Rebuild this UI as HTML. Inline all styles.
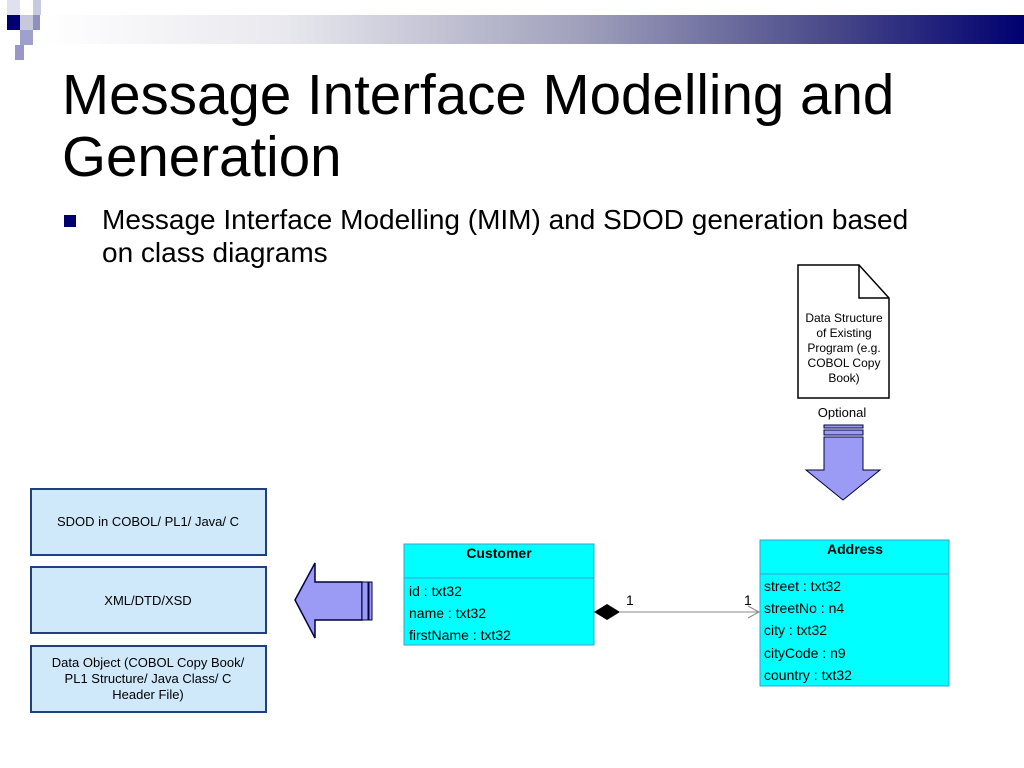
<!DOCTYPE html>
<html><head><style>
body{margin:0;width:1024px;height:768px;background:#fff;position:relative;overflow:hidden;font-family:"Liberation Sans",sans-serif}
.t{position:absolute;color:#000;white-space:nowrap}
</style></head><body>
<div style="position:absolute;left:40px;top:15px;width:984px;height:29px;background:linear-gradient(to right,#fff 0%,#e8e8ee 25%,#a0a0bc 55%,#4a4a8a 80%,#000070 100%)"></div>
<div style="position:absolute;left:7px;top:15px;width:13px;height:15px;background:#00006e"></div>
<div style="position:absolute;left:33px;top:0;width:8px;height:15px;background:#c8c8e0"></div>
<div style="position:absolute;left:20px;top:15px;width:13px;height:15px;background:#c8c8dc"></div>
<div style="position:absolute;left:33px;top:15px;width:7px;height:15px;background:#9090c0"></div>
<div style="position:absolute;left:20px;top:30px;width:13px;height:15px;background:#a0a0cc"></div>
<div style="position:absolute;left:15px;top:45px;width:9px;height:15px;background:#9898c8"></div>
<div style="position:absolute;left:7px;top:0;width:13px;height:15px;background:#e0e0ee"></div>
<div class="t" style="left:62px;top:64px;font-size:56.5px;line-height:62px">Message Interface Modelling and<br>Generation</div>
<div style="position:absolute;left:64px;top:215px;width:12px;height:12px;background:#00006e"></div>
<div class="t" style="left:102px;top:203px;font-size:28px;line-height:33px">Message Interface Modelling (MIM) and SDOD generation based<br>on class diagrams</div>
<svg width="1024" height="768" style="position:absolute;left:0;top:0">
<g fill="#cfe9fb" stroke="#1f3f7f" stroke-width="2">
<rect x="31" y="489" width="235" height="66"/><rect x="31" y="567" width="235" height="66"/><rect x="31" y="646" width="235" height="66"/></g>
<g font-family="Liberation Sans" font-size="13" text-anchor="middle">
<text x="148" y="526">SDOD in COBOL/ PL1/ Java/  C</text>
<text x="148" y="605">XML/DTD/XSD</text>
<text x="148" y="667">Data Object (COBOL Copy Book/</text>
<text x="148" y="683">PL1 Structure/ Java Class/ C</text>
<text x="148" y="699">Header File)</text>
</g>
<path d="M295,600 L315,563 L315,582 L362,582 L362,620 L315,620 L315,638 Z" fill="#9b9bf5" stroke="#000040" stroke-width="1.5"/>
<rect x="362" y="582" width="6" height="38" fill="#9b9bf5" stroke="#000040"/>
<rect x="369" y="582" width="3" height="38" fill="#9b9bf5" stroke="#000040"/>
<path d="M798,265 L859,265 L889,298 L889,398 L798,398 Z" fill="#fff" stroke="#000" stroke-width="1.5"/>
<path d="M859,265 L859,298 L889,298" fill="none" stroke="#000" stroke-width="1.5"/>
<g font-family="Liberation Sans" font-size="12" text-anchor="middle">
<text x="844" y="322">Data Structure</text><text x="844" y="337">of Existing</text><text x="844" y="352">Program (e.g.</text><text x="844" y="367">COBOL Copy</text><text x="844" y="382">Book)</text>
<text x="842" y="417" font-size="13">Optional</text></g>
<rect x="824" y="425" width="39" height="3" fill="#9b9bf5" stroke="#000040"/>
<rect x="824" y="430" width="39" height="5" fill="#9b9bf5" stroke="#000040"/>
<path d="M824,437 L863,437 L863,470 L880,470 L843,500 L806,470 L824,470 Z" fill="#9b9bf5" stroke="#000040"/>
<rect x="404" y="544" width="190" height="101" fill="#00ffff" stroke="#3aa0c8"/>
<line x1="404" y1="578" x2="594" y2="578" stroke="#3aa0c8"/>
<rect x="760" y="540" width="189" height="146" fill="#00ffff" stroke="#3aa0c8"/>
<line x1="760" y1="574" x2="949" y2="574" stroke="#3aa0c8"/>
<g font-family="Liberation Sans" font-size="14">
<text x="499" y="558" font-weight="bold" text-anchor="middle">Customer</text>
<text x="409" y="596">id : txt32</text><text x="409" y="618">name : txt32</text><text x="409" y="640">firstName : txt32</text>
<text x="855" y="554" font-weight="bold" text-anchor="middle">Address</text>
<text x="764" y="591">street : txt32</text><text x="764" y="613">streetNo : n4</text><text x="764" y="635">city : txt32</text><text x="764" y="658">cityCode : n9</text><text x="764" y="680">country : txt32</text>
<text x="626" y="605">1</text><text x="744" y="605">1</text></g>
<line x1="620" y1="612" x2="759" y2="612" stroke="#888"/>
<path d="M594,612 L607,604 L620,612 L607,620 Z" fill="#000"/>
<path d="M748,606 L759,612 L748,618" fill="none" stroke="#888"/>
</svg>
</body></html>
